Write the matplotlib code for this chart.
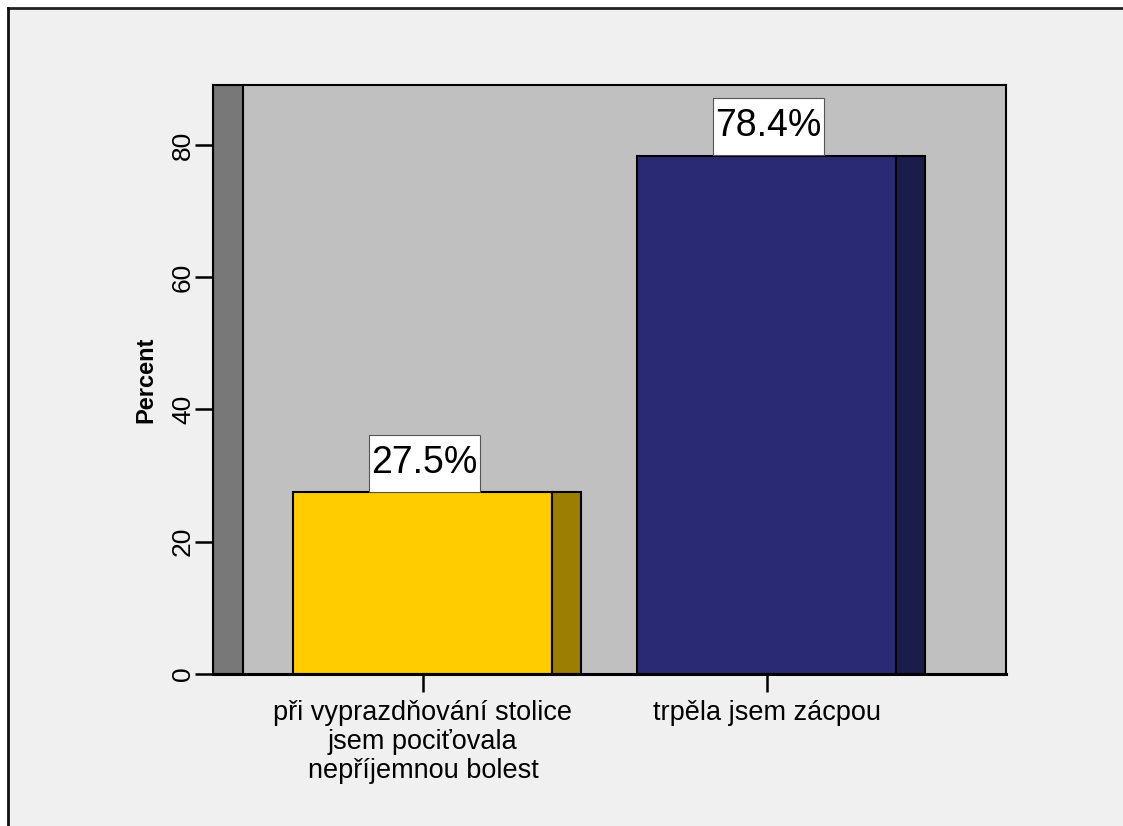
import numpy as np
import matplotlib.pyplot as plt
from matplotlib.patches import Rectangle
from matplotlib.path import Path

plt.rcParams['font.family'] = ['Liberation Sans', 'DejaVu Sans']

categories = ['při vyprazdňování stolice\njsem pociťovala\nnepříjemnou bolest',
              'trpěla jsem zácpou']
percents = [27.5, 78.4]
front_colors = ['#FFCC00', '#292A73']
side_colors = ['#9C7E00', '#1C1C4A']
y_ticks = [0, 20, 40, 60, 80]


def label_box(x0, y0, width, height, mutation_size):
    # narrow on the sides, taller above and below the number
    px = 0.06 * mutation_size
    py = 0.28 * mutation_size
    x0, x1 = x0 - px, x0 + width + px
    y0, y1 = y0 - py, y0 + height + py
    return Path([(x0, y0), (x1, y0), (x1, y1), (x0, y1), (x0, y0)], closed=True)


fig = plt.figure(figsize=(11.23, 8.26), dpi=100)
fig.patch.set_facecolor('white')

# grey panel with dark frame on top and left
panel = Rectangle((8 / 1123, 0), 1, 1 - 8 / 826, transform=fig.transFigure,
                  facecolor='#F0F0F0', edgecolor='none', zorder=-10)
fig.patches.append(panel)
fig.add_artist(plt.Line2D([8 / 1123, 1], [1 - 8 / 826, 1 - 8 / 826],
                          transform=fig.transFigure, color='#222222', lw=2, zorder=-5))
fig.add_artist(plt.Line2D([8 / 1123, 8 / 1123], [0, 1 - 8 / 826],
                          transform=fig.transFigure, color='#111111', lw=2, zorder=-5))

ax = fig.add_axes([213 / 1123, 1 - 674 / 826, (1006 - 213) / 1123, (674 - 85) / 826])
ax.set_facecolor('#C0C0C0')

x_lo, x_hi = -0.6105, 1.695
ax.set_xlim(x_lo, x_hi)
ax.set_ylim(0, 89.07)

# back wall strip on the left
ax.add_patch(Rectangle((x_lo, 0), 0.087, 89.07, facecolor='#787878',
                       edgecolor='black', lw=1.5, zorder=1))

x = np.arange(len(categories))
w_front = 0.753
w_side = 0.084
ax.bar(x, percents, width=w_front, color=front_colors, edgecolor='black',
       linewidth=1.5, zorder=2)
ax.bar(x + w_front / 2 + w_side / 2, percents, width=w_side, color=side_colors,
       edgecolor='black', linewidth=1.5, zorder=2)

for xi, p in zip(x, percents):
    ax.annotate(f'{p}%', (xi + 0.005, p), xytext=(0, 8), textcoords='offset points',
                ha='center', va='bottom', fontsize=27, zorder=4,
                bbox=dict(boxstyle=label_box, facecolor='white',
                          edgecolor='#555555', lw=0.8))

ax.set_yticks(y_ticks)
ax.set_yticklabels([str(t) for t in y_ticks], rotation=90, va='center', fontsize=19)
ax.set_xticks(x)
ax.set_xticklabels(categories, fontsize=19.5, linespacing=1.15)
ax.tick_params(axis='both', length=13, width=1.8, direction='out')
ax.tick_params(axis='y', pad=0)
ax.tick_params(axis='x', pad=6)
ax.set_ylabel('Percent', fontsize=17, fontweight='bold', labelpad=10)

for side in ['top', 'right', 'left']:
    ax.spines[side].set_linewidth(1.5)
ax.spines['bottom'].set_linewidth(2.2)

fig.savefig('out.png', dpi=100, facecolor=fig.get_facecolor())
